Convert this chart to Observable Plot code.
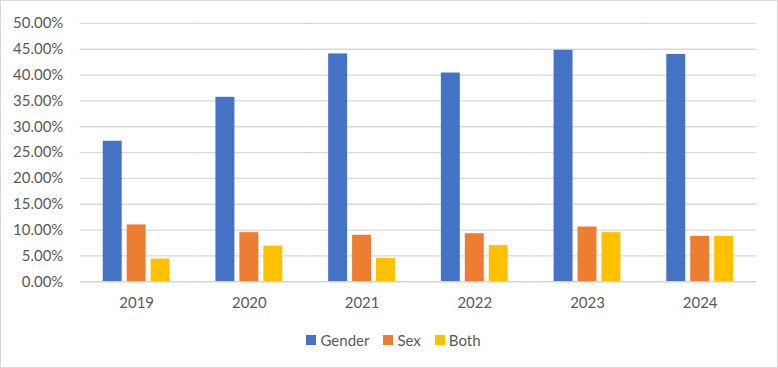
<!DOCTYPE html>
<html>
<head>
<meta charset="utf-8">
<script src="https://cdn.jsdelivr.net/npm/d3@7"></script>
<script src="https://cdn.jsdelivr.net/npm/@observablehq/plot@0.6"></script>
<style>
  html, body { margin: 0; padding: 0; background: #fff; }
  #chart {
    position: relative;
    width: 778px; height: 368px;
    box-sizing: border-box;
    border: 1px solid #d9d9d9;
    font-family: Lato, "Open Sans", sans-serif;
    color: #595959;
    overflow: hidden;
  }
  #chart svg { position: absolute; left: -1px; top: -1px; }
  #legend {
    position: absolute; left: 0; right: 0; top: 329px;
    display: flex; justify-content: center; align-items: center;
    font-size: 15px; line-height: 20px; gap: 14px;
    padding-left: 9px;
  }
  #legend .item { display: flex; align-items: center; gap: 4px; }
  #legend .sw { width: 10px; height: 10px; display: inline-block; }
</style>
</head>
<body>
<div id="chart"><div id="legend"></div></div>
<script>
// Share of cases by category, per year (percent)
const years = ["2019", "2020", "2021", "2022", "2023", "2024"];
const series = ["Gender", "Sex", "Both"];
const gender = [27.2, 35.7, 44.1, 40.4, 44.8, 44.0];
const sex = [11.0, 9.5, 9.0, 9.3, 10.6, 8.8];
const both = [4.4, 6.9, 4.5, 7.0, 9.5, 8.8];
const colors = ["#4472C4", "#ED7D31", "#FFC000"];
const yTicks = [0, 5, 10, 15, 20, 25, 30, 35, 40, 45, 50];

const values = [gender, sex, both];
const rows = years.flatMap((year, i) =>
  series.map((s, j) => ({ year, series: s, value: values[j][i] }))
);

const chart = Plot.plot({
  width: 778,
  height: 322,
  marginLeft: 80,
  marginRight: 20,
  marginTop: 23,
  marginBottom: 40,
  style: { fontFamily: "Lato, 'Open Sans', sans-serif", fontSize: "15px", color: "#595959", background: "transparent" },
  fx: { domain: years, padding: 0, label: null, axis: "bottom", tickSize: 0, tickPadding: 16 },
  x: { domain: series, paddingInner: 0.215, paddingOuter: 0.94, axis: null },
  y: {
    domain: [0, 50],
    ticks: yTicks,
    tickFormat: d => d.toFixed(2) + "%",
    tickSize: 0,
    tickPadding: 17,
    label: null
  },
  color: { domain: series, range: colors },
  marks: [
    Plot.ruleY(yTicks.slice(1), { stroke: "#d9d9d9", strokeWidth: 1.3 }),
    Plot.barY(rows, { fx: "year", x: "series", y: "value", fill: "series" }),
    Plot.ruleY([0], { stroke: "#d4d4d4", strokeWidth: 1.6 })
  ]
});
document.getElementById("chart").prepend(chart);

// Legend row under the plot
const legend = document.getElementById("legend");
series.forEach((s, i) => {
  const item = document.createElement("span");
  item.className = "item";
  const sw = document.createElement("span");
  sw.className = "sw";
  sw.style.background = colors[i];
  const label = document.createElement("span");
  label.textContent = s;
  item.append(sw, label);
  legend.append(item);
});
</script>
</body>
</html>
